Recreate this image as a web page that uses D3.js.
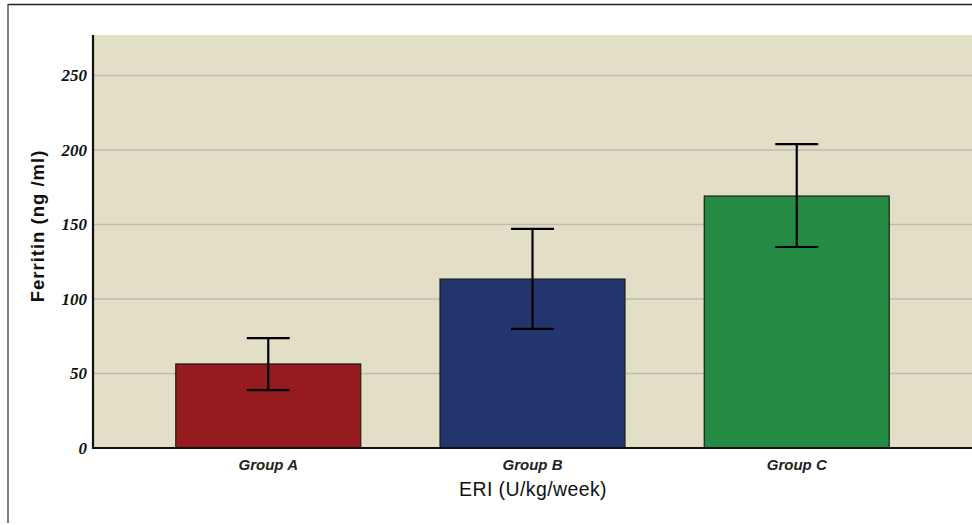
<!DOCTYPE html>
<html>
<head>
<meta charset="utf-8">
<script src="https://cdn.jsdelivr.net/npm/d3@7"></script>
<style>
  html, body { margin: 0; padding: 0; background: #fff; }
  svg { display: block; }
</style>
</head>
<body>
<svg id="chart" width="972" height="525"></svg>
<script>
// Mean serum ferritin per ERI group, with error bar bounds
const groups = ["Group A", "Group B", "Group C"];
const means = [56.4, 113.4, 169.1];
const errLow = [38.9, 79.9, 134.9];
const errHigh = [73.8, 147, 204];
const barColors = ["#951b1f", "#22366d", "#258a44"];
const yTicks = [0, 50, 100, 150, 200, 250];

const svg = d3.select("#chart");
const W = 972, H = 525;

// Outer frame (top and left edges)
svg.append("line").attr("x1", 8).attr("x2", W).attr("y1", 4.5).attr("y2", 4.5)
  .attr("stroke", "#222").attr("stroke-width", 1.5);
svg.append("line").attr("x1", 8).attr("x2", 8).attr("y1", 4).attr("y2", 523)
  .attr("stroke", "#555").attr("stroke-width", 1.5);

const plot = { left: 93, right: 975, top: 35, bottom: 448 };

const y = d3.scaleLinear().domain([0, 250]).range([plot.bottom, 75.5]);
const x = d3.scaleBand().domain(groups).range([96.5, 968.5]).paddingInner(0.3).paddingOuter(0.3);

// Plot background
svg.append("rect")
  .attr("x", plot.left).attr("y", plot.top)
  .attr("width", plot.right - plot.left).attr("height", plot.bottom - plot.top)
  .attr("fill", "#e3dfc7");

// Gridlines
svg.append("g").selectAll("line")
  .data(yTicks.filter(d => d > 0))
  .join("line")
  .attr("x1", plot.left).attr("x2", plot.right)
  .attr("y1", d => y(d)).attr("y2", d => y(d))
  .attr("stroke", "#bdbbb1").attr("stroke-width", 1.5);

// Bars
svg.append("g").selectAll("rect")
  .data(groups)
  .join("rect")
  .attr("x", d => x(d))
  .attr("y", (d, i) => y(means[i]))
  .attr("width", x.bandwidth())
  .attr("height", (d, i) => y(0) - y(means[i]))
  .attr("fill", (d, i) => barColors[i])
  .attr("stroke", "#1e1e1e").attr("stroke-width", 1.2);

// Error bars
const capW = 43;
const eb = svg.append("g").attr("stroke", "#000").attr("stroke-width", 2.2);
groups.forEach((g, i) => {
  const cx = x(g) + x.bandwidth() / 2;
  eb.append("line").attr("x1", cx).attr("x2", cx).attr("y1", y(errLow[i])).attr("y2", y(errHigh[i]));
  eb.append("line").attr("x1", cx - capW / 2).attr("x2", cx + capW / 2).attr("y1", y(errHigh[i])).attr("y2", y(errHigh[i]));
  eb.append("line").attr("x1", cx - capW / 2).attr("x2", cx + capW / 2).attr("y1", y(errLow[i])).attr("y2", y(errLow[i]));
});

// Y axis
const yAxis = svg.append("g")
  .attr("transform", `translate(${plot.left},0)`)
  .call(d3.axisLeft(y).tickValues(yTicks).tickSize(0).tickPadding(6));
yAxis.select(".domain").remove();
yAxis.selectAll("text")
  .attr("font-family", "'Liberation Serif', 'Times New Roman', serif")
  .attr("font-weight", "bold").attr("font-style", "italic")
  .attr("font-size", 17).attr("fill", "#111");
svg.append("line").attr("x1", plot.left).attr("x2", plot.left)
  .attr("y1", plot.top).attr("y2", plot.bottom + 1)
  .attr("stroke", "#111").attr("stroke-width", 2.2);

// X axis
const xAxis = svg.append("g")
  .attr("transform", `translate(0,${plot.bottom})`)
  .call(d3.axisBottom(x).tickSize(0).tickPadding(11));
xAxis.select(".domain").remove();
xAxis.selectAll("text")
  .attr("font-family", "'Liberation Sans', Arial, sans-serif")
  .attr("font-weight", "bold").attr("font-style", "italic")
  .attr("font-size", 15).attr("fill", "#222");
svg.append("line").attr("x1", plot.left - 1).attr("x2", plot.right)
  .attr("y1", plot.bottom).attr("y2", plot.bottom)
  .attr("stroke", "#111").attr("stroke-width", 2.2);

// Axis titles
svg.append("text")
  .attr("x", 533).attr("y", 496)
  .attr("text-anchor", "middle")
  .attr("font-family", "'Liberation Sans', Arial, sans-serif")
  .attr("font-size", 19.5).attr("letter-spacing", 0.4).attr("fill", "#111")
  .text("ERI (U/kg/week)");

svg.append("text")
  .attr("transform", "translate(44,226) rotate(-90)")
  .attr("text-anchor", "middle")
  .attr("font-family", "'Liberation Sans', Arial, sans-serif")
  .attr("font-weight", "bold")
  .attr("font-size", 18.5).attr("letter-spacing", 1).attr("fill", "#111")
  .text("Ferritin (ng /ml)");
</script>
</body>
</html>
